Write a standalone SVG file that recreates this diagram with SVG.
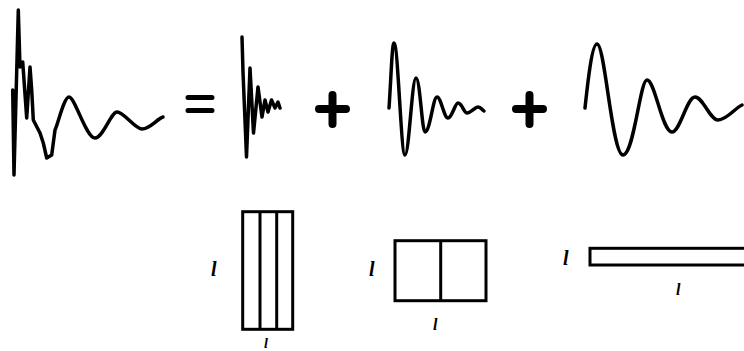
<svg xmlns="http://www.w3.org/2000/svg" width="744" height="351" viewBox="0 0 744 351">
<style>
.w{fill:none;stroke:#000;stroke-width:3.5;stroke-linejoin:round;stroke-linecap:round}
.op{fill:none;stroke:#000;stroke-width:8;stroke-linecap:round}
.b{fill:none;stroke:#000;stroke-width:3}
.lab{font-family:"Liberation Serif",serif;font-style:italic;font-weight:bold;fill:#000}
</style>
<rect width="744" height="351" fill="#fff"/>
<g id="waves">
<path class="w" d="M12.7,90 L14,175 L18.3,10 L20,67 L22.7,62 L24,80 L26.7,118 L30,67 L31.7,90 L33.3,120 L40,133 L43.3,143 L46.7,158 L51.7,155 L55,130 C58,124 64,97 69,97 C75,97 86,138 95,138 C103,138 111,112 117,112 C124,112 135,129 142,129 C150,129 157,119 163,117"/>
<path class="w" d="M242,37 L243,72 L246.5,157 L250,68 L253.5,133 L258,87 L262,117 L265,100 L268,112 L271.5,100 L275,108 L278,102 L280,108"/>
<path class="w" d="M389,108 C391,80 392,43 394,43 C398,43 401,155 405,155 C409,155 412,78 416,78 C420,78 422,132 425,132 C430,132 433,97 437,97 C441,97 444,118 448,118 C452,118 455,103 458,103 C462,103 464,113 467,113 C471,113 475,107 478,107 C481,107 482,110 484,111"/>
<path class="w" d="M585,108 C588,80 592,44 597,44 C605,44 612,155 623,155 C634,155 640,80 647,80 C655,80 662,132 672,132 C680,132 687,97 695,97 C703,97 710,120 718,120 C727,120 735,108 742,105"/>
</g>
<g id="operators">
<path class="op" style="stroke-width:5" d="M188,97.5 H212 M188,110.5 H212"/>
<path class="op" d="M319,109 H346 M332.5,95 V124"/>
<path class="op" d="M516,109 H543 M529.5,95 V124"/>
</g>
<g id="rect1">
<rect class="b" x="242.7" y="211.7" width="50" height="117.6"/>
<path class="b" d="M260,211.7 V329.3 M276.7,211.7 V329.3"/>
<text class="lab" x="211" y="276" font-size="20">l</text>
<text class="lab" x="264" y="348" font-size="14">l</text>
</g>
<g id="rect2">
<rect class="b" x="395" y="240.7" width="91" height="60"/>
<path class="b" d="M440.7,240.7 V300.7"/>
<text class="lab" x="369" y="276" font-size="20">l</text>
<text class="lab" x="433" y="330" font-size="16">l</text>
</g>
<g id="rect3">
<rect class="b" x="590" y="248.3" width="160" height="16.7"/>
<text class="lab" x="563" y="265" font-size="20">l</text>
<text class="lab" x="676" y="295" font-size="16">l</text>
</g>
</svg>
